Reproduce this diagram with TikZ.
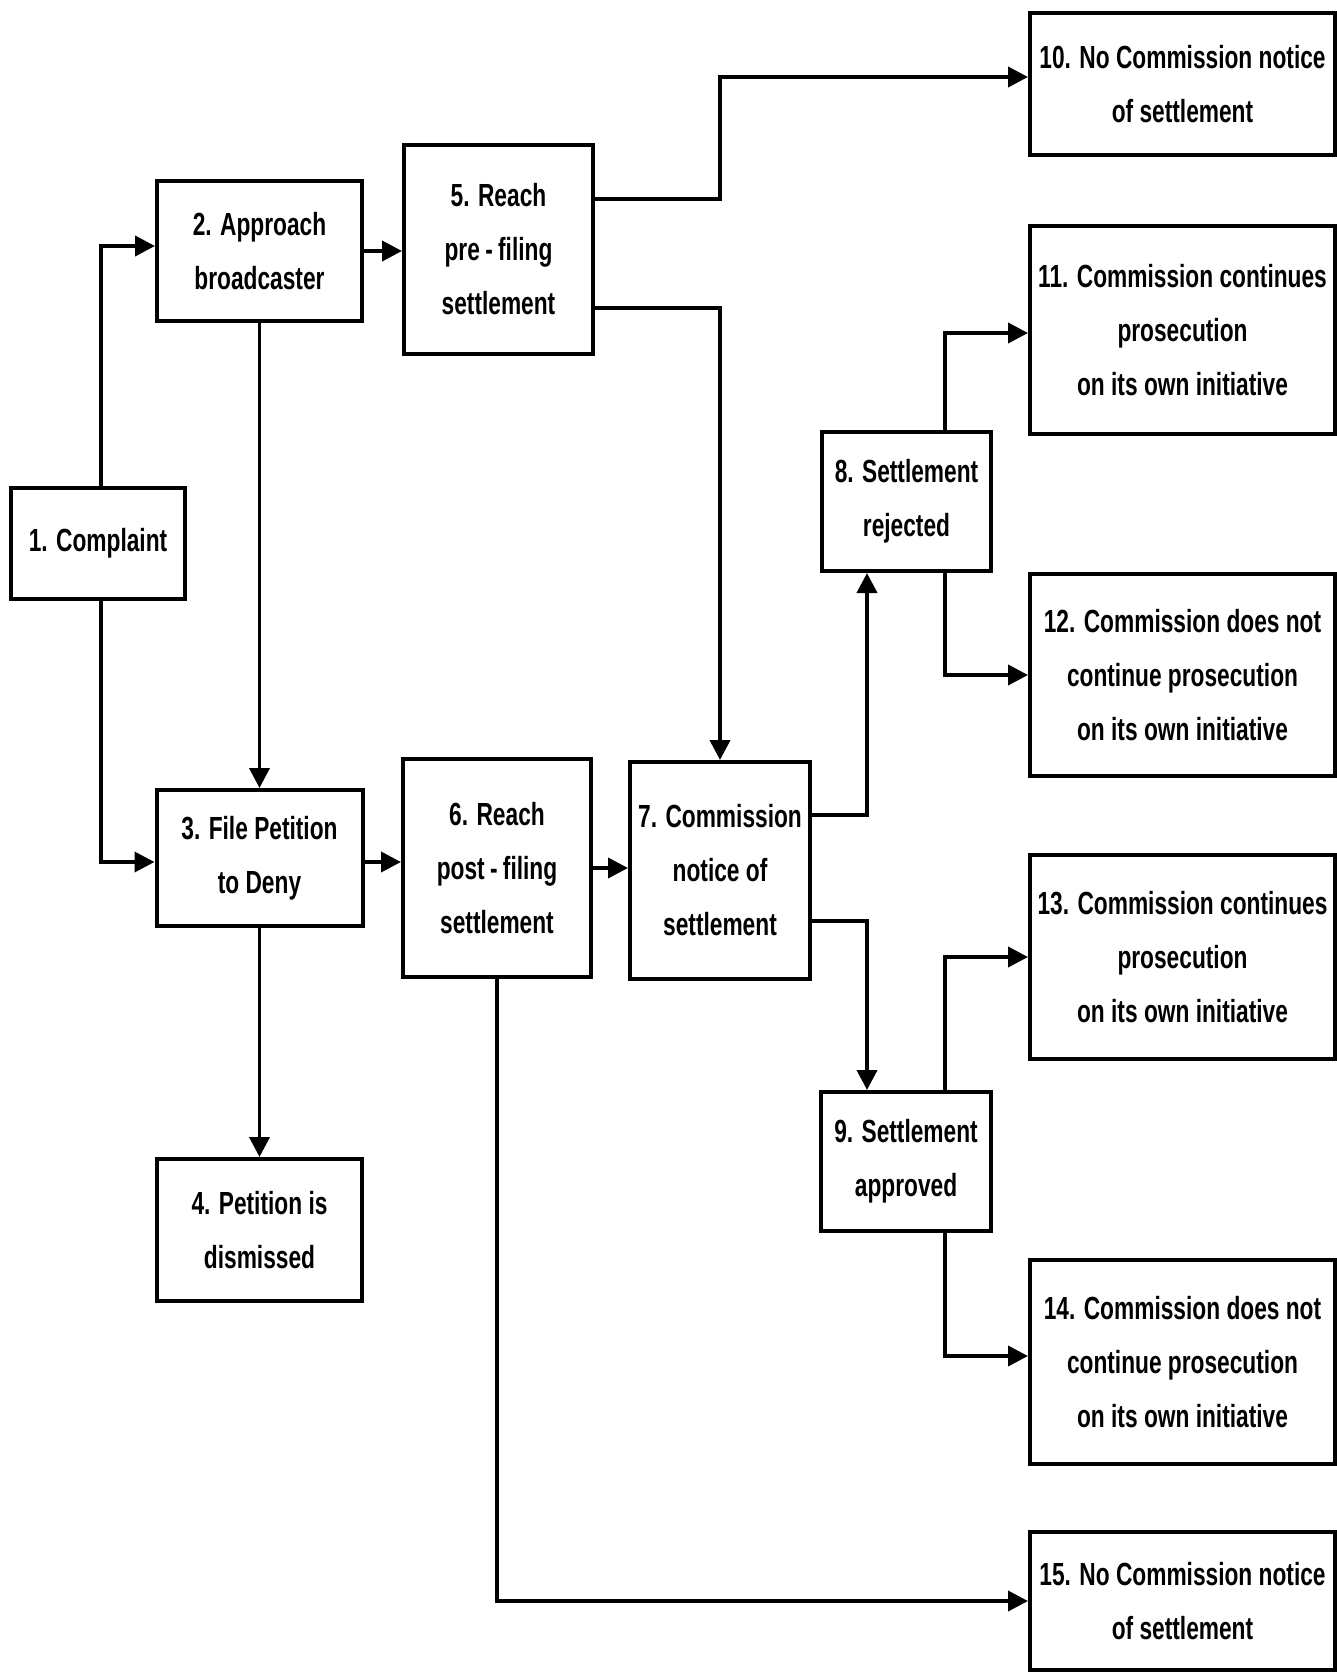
\documentclass[tikz,border=0pt]{standalone}
\usepackage{fontspec}
\setmainfont{Liberation Sans}[FakeStretch=0.71]
\usetikzlibrary{arrows.meta,calc}
\begin{document}
\begin{tikzpicture}[x=0.5pt,y=-0.5pt,
  box/.style={draw, line width=2pt, rectangle, inner sep=0pt, align=center,
    font=\bfseries\fontsize{16}{27}\selectfont},
  arr/.style={line width=1.9pt, -{Triangle[length=10pt,width=10pt]}},
  ln/.style={line width=1.9pt}]
\fill[white] (0,0) rectangle (1337,1674);
\useasboundingbox (0,0) rectangle (1337,1674);
% boxes (centre, width, height in px)
\node[box, minimum width=87pt, minimum height=55.5pt] (B1) at (98,543.5) {1. Complaint};
\node[box, minimum width=102.5pt, minimum height=70pt] (B2) at (259.5,251) {2. Approach\\broadcaster};
\node[box, minimum width=103pt, minimum height=68pt] (B3) at (259.5,858) {3. File Petition\\to Deny};
\node[box, minimum width=102.5pt, minimum height=71pt] (B4) at (259.5,1230) {4. Petition is\\dismissed};
\node[box, minimum width=94.5pt, minimum height=104.5pt] (B5) at (498.5,249.5) {5. Reach\\pre\,-\,filing\\settlement};
\node[box, minimum width=94pt, minimum height=109pt] (B6) at (497,868) {6. Reach\\post\,-\,filing\\settlement};
\node[box, minimum width=90pt, minimum height=108.5pt] (B7) at (720,870.5) {7. Commission\\notice of\\settlement};
\node[box, minimum width=84.5pt, minimum height=69.5pt] (B8) at (906.5,501.5) {8. Settlement\\rejected};
\node[box, minimum width=85pt, minimum height=69.5pt] (B9) at (906,1161.5) {9. Settlement\\approved};
\node[box, minimum width=152.5pt, minimum height=71pt] (B10) at (1182.5,84) {10. No Commission notice\\of settlement};
\node[box, minimum width=152.5pt, minimum height=104pt] (B11) at (1182.5,330) {11. Commission continues\\prosecution\\on its own initiative};
\node[box, minimum width=152.5pt, minimum height=101pt] (B12) at (1182.5,675) {12. Commission does not\\continue prosecution\\on its own initiative};
\node[box, minimum width=152.5pt, minimum height=102pt] (B13) at (1182.5,957) {13. Commission continues\\prosecution\\on its own initiative};
\node[box, minimum width=152.5pt, minimum height=102pt] (B14) at (1182.5,1362) {14. Commission does not\\continue prosecution\\on its own initiative};
\node[box, minimum width=152.5pt, minimum height=69pt] (B15) at (1182.5,1601) {15. No Commission notice\\of settlement};
% helper coordinates
\coordinate (x101) at (101,0);
\coordinate (x721) at (720,0);
\coordinate (x867) at (867,0);
\coordinate (x945) at (945,0);
\coordinate (y77) at (0,77);
\coordinate (y199) at (0,199);
\coordinate (y246) at (0,246);
\coordinate (y308) at (0,308);
\coordinate (y333) at (0,333);
\coordinate (y815) at (0,815);
\coordinate (y862) at (0,862);
\coordinate (y921) at (0,921);
\coordinate (y1356) at (0,1356);
% connectors
\draw[arr] (B1.north -| x101) |- (B2.west |- y246);
\draw[arr] (B1.south -| x101) |- (B3.west |- y862);
\draw[arr] (B2.south) -- (B3.north);
\draw[arr] (B3.south) -- (B4.north);
\draw[arr] (B2.east) -- (B2.east -| B5.west);
\draw[arr] (B3.east |- y862) -- (B6.west |- y862);
\draw[arr] (B6.east) -- (B6.east -| B7.west);
\draw[arr] (B5.east |- y199) -- (x721 |- y199) |- (B10.west |- y77);
\draw[arr] (B5.east |- y308) -| (B7.north);
\draw[arr] (B7.east |- y815) -| (B8.south -| x867);
\draw[arr] (B7.east |- y921) -| (B9.north -| x867);
\draw[arr] (B8.north -| x945) |- (B11.west |- y333);
\draw[arr] (B8.south -| x945) |- (B12.west);
\draw[arr] (B9.north -| x945) |- (B13.west);
\draw[arr] (B9.south -| x945) |- (B14.west |- y1356);
\draw[arr] (B6.south) |- (B15.west);
\end{tikzpicture}
\end{document}
